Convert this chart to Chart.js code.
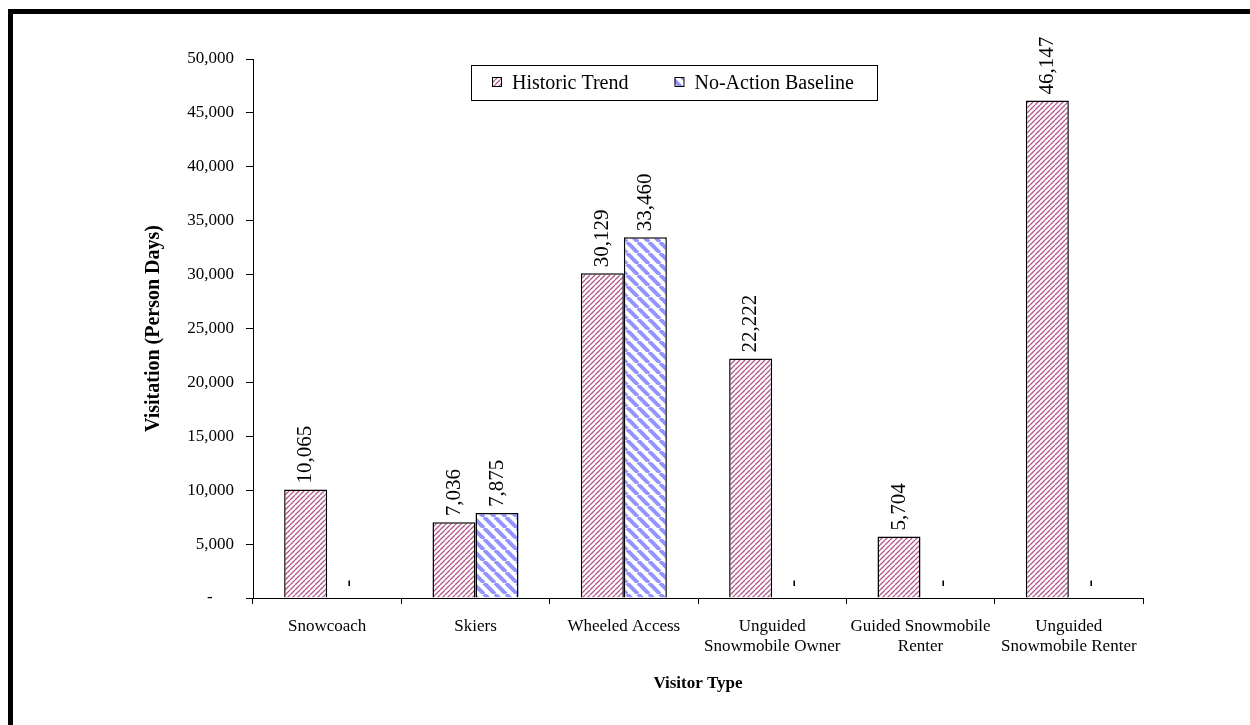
<!DOCTYPE html>
<html>
<head>
<meta charset="utf-8">
<script src="https://cdn.jsdelivr.net/npm/chart.js@4.4.1/dist/chart.umd.min.js"></script>
<style>
  html, body { margin: 0; padding: 0; background: #fff; overflow: hidden; }
  #wrap { position: relative; width: 1250px; height: 725px; }
  #chart { position: absolute; left: 0; top: 0; }
  #frame {
    position: absolute; left: 8px; top: 9px; width: 1400px; height: 900px;
    border-left: 5px solid #000; border-top: 5px solid #000; pointer-events: none;
  }
</style>
</head>
<body>
<div id="wrap">
  <canvas id="chart" width="1250" height="725"></canvas>
  <div id="frame"></div>
</div>
<script>
const categories = [
  'Snowcoach',
  'Skiers',
  'Wheeled Access',
  ['Unguided', 'Snowmobile Owner'],
  ['Guided Snowmobile', 'Renter'],
  ['Unguided', 'Snowmobile Renter']
];
const historicTrend = [10065, 7036, 30129, 22222, 5704, 46147];
const noActionBaseline = [0, 7875, 33460, 0, 0, 0];
const seriesNames = ['Historic Trend', 'No-Action Baseline'];

const SERIF = '"Liberation Serif", "Times New Roman", serif';

// hatch fills like the old office chart
function hatch(size, color, width, dir) {
  const c = document.createElement('canvas');
  c.width = size; c.height = size;
  const g = c.getContext('2d');
  g.fillStyle = '#fff';
  g.fillRect(0, 0, size, size);
  g.strokeStyle = color;
  g.lineWidth = width;
  g.beginPath();
  for (let k = -1; k <= 1; k++) {
    if (dir === '/') {
      g.moveTo(k * size, size); g.lineTo(k * size + size, 0);
    } else {
      g.moveTo(k * size, 0); g.lineTo(k * size + size, size);
    }
  }
  g.stroke();
  return g.createPattern(c, 'repeat');
}

const ctx = document.getElementById('chart').getContext('2d');
const redHatch = hatch(5, '#b2548a', 1.3, '/');
const blueHatch = hatch(11, '#9494ff', 4, '\\');

const barLabels = {
  id: 'barLabels',
  afterDatasetsDraw(chart) {
    const c = chart.ctx;
    c.save();
    c.font = '21px ' + SERIF;
    c.fillStyle = '#000';
    c.textAlign = 'left';
    c.textBaseline = 'middle';
    chart.data.datasets.forEach((ds, i) => {
      chart.getDatasetMeta(i).data.forEach((bar, j) => {
        const v = ds.data[j];
        const text = v === 0 ? ' -' : v.toLocaleString('en-US');
        c.save();
        c.translate(bar.x, bar.y - 6);
        c.rotate(-Math.PI / 2);
        c.fillText(text, 0, 0);
        c.restore();
      });
    });
    c.restore();
  }
};

const boxLegend = {
  id: 'boxLegend',
  afterDraw(chart) {
    const c = chart.ctx;
    const area = chart.chartArea;
    const x0 = area.left + 218, y0 = area.top + 6, w = 406, h = 35;
    c.save();
    c.fillStyle = '#fff';
    c.fillRect(x0, y0, w, h);
    c.strokeStyle = '#000';
    c.lineWidth = 1;
    c.strokeRect(x0 + 0.5, y0 + 0.5, w, h);
    c.font = '20px ' + SERIF;
    c.textBaseline = 'middle';
    c.textAlign = 'left';
    let x = x0 + 21;
    chart.data.datasets.forEach(ds => {
      c.fillStyle = ds.backgroundColor;
      c.fillRect(x, y0 + 12, 9, 9);
      c.strokeStyle = '#000';
      c.strokeRect(x + 0.5, y0 + 12.5, 9, 9);
      c.fillStyle = '#000';
      c.fillText(ds.label, x + 20, y0 + h / 2 + 1);
      x += 20 + c.measureText(ds.label).width + 46;
    });
    c.restore();
  }
};

new Chart(ctx, {
  type: 'bar',
  data: {
    labels: categories,
    datasets: [
      {
        label: seriesNames[0],
        data: historicTrend,
        backgroundColor: redHatch,
        borderColor: '#000',
        borderWidth: 1.5,
        borderSkipped: 'bottom'
      },
      {
        label: seriesNames[1],
        data: noActionBaseline,
        backgroundColor: blueHatch,
        borderColor: '#000',
        borderWidth: 1.5,
        borderSkipped: 'bottom'
      }
    ]
  },
  options: {
    responsive: false,
    animation: false,
    categoryPercentage: 0.58,
    barPercentage: 1,
    layout: { padding: { left: 136, top: 59, right: 107, bottom: 31 } },
    plugins: {
      legend: { display: false },
      tooltip: { enabled: false }
    },
    scales: {
      x: {
        grid: { offset: true, drawOnChartArea: false, color: '#000', tickLength: 6 },
        border: { color: '#000' },
        ticks: {
          color: '#000',
          font: { family: SERIF, size: 17 },
          padding: 12,
          autoSkip: false,
          maxRotation: 0
        },
        title: {
          display: true,
          text: 'Visitor Type',
          color: '#000',
          font: { family: SERIF, size: 17, weight: 'bold' },
          padding: 0
        },
        afterFit: s => { s.height = 96; }
      },
      y: {
        min: 0,
        max: 50000,
        grid: { drawOnChartArea: false, color: '#000', tickLength: 7 },
        border: { color: '#000' },
        ticks: {
          stepSize: 5000,
          color: '#000',
          font: { family: SERIF, size: 17 },
          padding: 12,
          callback: v => v === 0 ? '-     ' : v.toLocaleString('en-US')
        },
        title: {
          display: true,
          text: 'Visitation (Person Days)',
          color: '#000',
          font: { family: SERIF, size: 20, weight: 'bold' },
          padding: { top: 6, bottom: 0 }
        },
        afterFit: s => { s.width = 117; }
      }
    }
  },
  plugins: [barLabels, boxLegend]
});
</script>
</body>
</html>
